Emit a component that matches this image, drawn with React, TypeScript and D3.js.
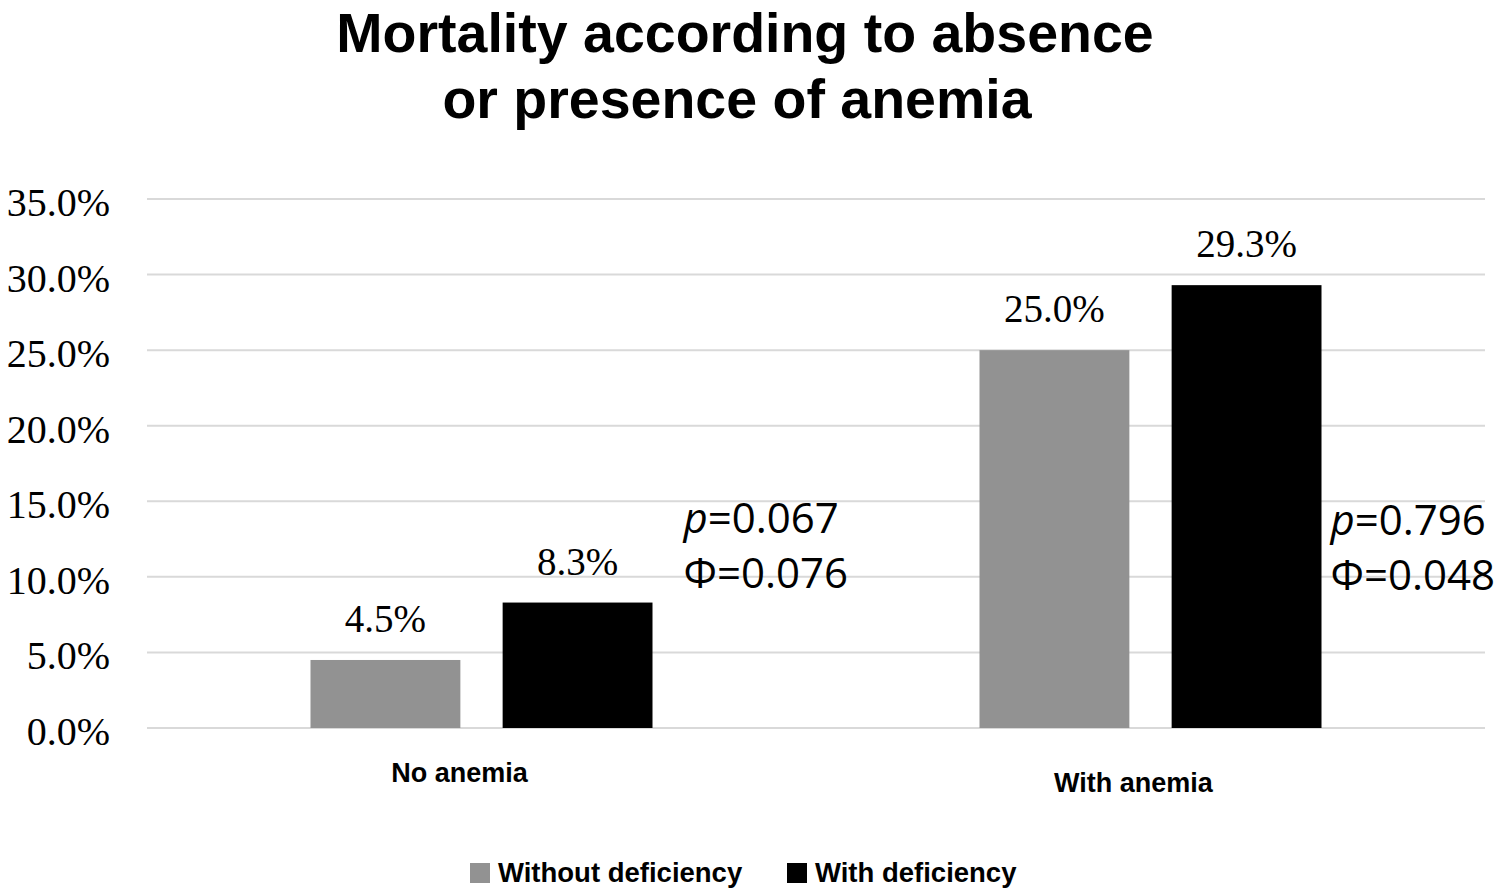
import * as d3 from "d3";
import { useEffect, useRef } from "react";

const categories = ["No anemia", "With anemia"];
const seriesNames = ["Without deficiency", "With deficiency"];
const withoutDeficiency = [4.5, 25.0];
const withDeficiency = [8.3, 29.3];
const pValues = ["0.067", "0.796"];
const phiValues = ["0.076", "0.048"];
const yTicks = [0, 5, 10, 15, 20, 25, 30, 35];

const COLORS = ["#929292", "#000000"];

const WIDTH = 1508;
const HEIGHT = 896;

export default function App() {
  const svgRef = useRef<SVGSVGElement>(null);

  useEffect(() => {
    if (!svgRef.current) return;
    const svg = d3.select(svgRef.current);
    svg.selectAll("*").remove();

    const left = 147, right = 1485, top = 199, bottom = 728;

    const x0 = d3.scaleBand<string>().domain(categories).range([left, right]);
    const groupW = 342;
    const x1 = d3
      .scaleBand<string>()
      .domain(seriesNames)
      .range([(x0.bandwidth() - groupW) / 2, (x0.bandwidth() + groupW) / 2])
      .paddingInner(0.22);
    const y = d3.scaleLinear().domain([0, 35]).range([bottom, top]);

    svg.append("rect").attr("width", WIDTH).attr("height", HEIGHT).attr("fill", "#fff");

    // title
    const title = svg
      .append("text")
      .attr("text-anchor", "middle")
      .attr("font-family", "'Liberation Sans', Arial, sans-serif")
      .attr("font-weight", "bold")
      .attr("font-size", 55.5)
      .attr("fill", "#000");
    title.append("tspan").attr("x", 745).attr("y", 52).text("Mortality according to absence");
    title.append("tspan").attr("x", 737).attr("y", 118).text("or presence of anemia");

    // gridlines
    svg
      .append("g")
      .selectAll("line")
      .data(yTicks)
      .enter()
      .append("line")
      .attr("x1", left)
      .attr("x2", right)
      .attr("y1", (d) => y(d))
      .attr("y2", (d) => y(d))
      .attr("stroke", "#d9d9d9")
      .attr("stroke-width", 2);

    // y tick labels
    svg
      .append("g")
      .selectAll("text")
      .data(yTicks)
      .enter()
      .append("text")
      .attr("x", 110)
      .attr("y", (d) => y(d) + 17)
      .attr("text-anchor", "end")
      .attr("font-family", "'Liberation Serif', 'Times New Roman', serif")
      .attr("font-size", 40)
      .attr("fill", "#000")
      .text((d) => `${d.toFixed(1)}%`);

    // bars
    const values = [withoutDeficiency, withDeficiency];
    const bars = categories.flatMap((c, i) =>
      seriesNames.map((s, j) => ({ c, s, j, v: values[j][i] })),
    );

    svg
      .append("g")
      .selectAll("rect")
      .data(bars)
      .enter()
      .append("rect")
      .attr("x", (d) => (x0(d.c) ?? 0) + (x1(d.s) ?? 0))
      .attr("y", (d) => y(d.v))
      .attr("width", x1.bandwidth())
      .attr("height", (d) => y(0) - y(d.v))
      .attr("fill", (d) => COLORS[d.j]);

    svg
      .append("g")
      .selectAll("text")
      .data(bars)
      .enter()
      .append("text")
      .attr("x", (d) => (x0(d.c) ?? 0) + (x1(d.s) ?? 0) + x1.bandwidth() / 2)
      .attr("y", (d) => y(d.v) - 28)
      .attr("text-anchor", "middle")
      .attr("font-family", "'Liberation Serif', 'Times New Roman', serif")
      .attr("font-size", 39)
      .attr("fill", "#000")
      .text((d) => `${d.v.toFixed(1)}%`);

    // category labels (slightly offset like the original)
    const catShift = [
      { dx: -22, y: 782 },
      { dx: -17, y: 792 },
    ];
    svg
      .append("g")
      .selectAll("text")
      .data(categories)
      .enter()
      .append("text")
      .attr("x", (d, i) => (x0(d) ?? 0) + x0.bandwidth() / 2 + catShift[i].dx)
      .attr("y", (d, i) => catShift[i].y)
      .attr("text-anchor", "middle")
      .attr("font-family", "'Liberation Sans', Arial, sans-serif")
      .attr("font-weight", "bold")
      .attr("font-size", 27)
      .attr("fill", "#000")
      .text((d) => d);

    // p / phi annotations
    const annShift = [
      { dx: 31, y: 533 },
      { dx: 9, y: 535 },
    ];
    categories.forEach((c, i) => {
      const barRight =
        (x0(c) ?? 0) + (x1(seriesNames[1]) ?? 0) + x1.bandwidth();
      const ax = barRight + annShift[i].dx;
      const t = svg
        .append("text")
        .attr("font-family", "'Open Sans', 'Noto Sans', sans-serif")
        .attr("font-size", 42)
        .attr("fill", "#000");
      const l1 = t.append("tspan").attr("x", ax).attr("y", annShift[i].y);
      l1.append("tspan").attr("font-style", "italic").text("p");
      l1.append("tspan").text(`=${pValues[i]}`);
      t.append("tspan").attr("x", ax).attr("y", annShift[i].y + 55).text(`Φ=${phiValues[i]}`);
    });

    // legend
    const legendX = [470, 787];
    const lg = svg.append("g");
    seriesNames.forEach((s, i) => {
      lg.append("rect")
        .attr("x", legendX[i])
        .attr("y", 863)
        .attr("width", 20)
        .attr("height", 20)
        .attr("fill", COLORS[i]);
      lg.append("text")
        .attr("x", legendX[i] + 28)
        .attr("y", 882)
        .attr("font-family", "'Liberation Sans', Arial, sans-serif")
        .attr("font-weight", "bold")
        .attr("font-size", 27.5)
        .attr("fill", "#000")
        .text(s);
    });
  }, []);

  return (
    <svg
      ref={svgRef}
      width={WIDTH}
      height={HEIGHT}
      style={{ position: "absolute", left: 0, top: 0, display: "block" }}
    />
  );
}
